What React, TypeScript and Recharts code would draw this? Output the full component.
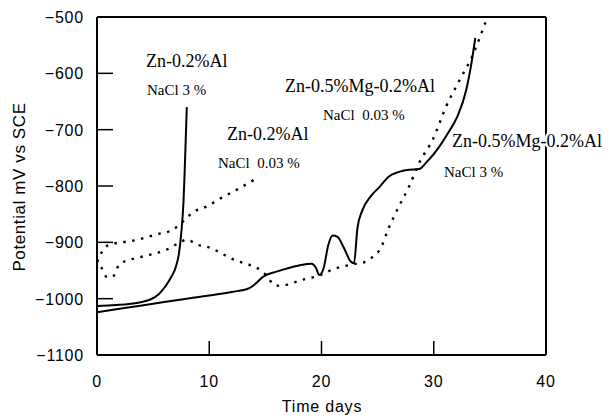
import { LineChart, Line, XAxis, YAxis, ReferenceLine } from 'recharts';

// Time (days) / potential (mV vs SCE)
const znAl3pct: [number, number][] = [
  [0, -1013], [1, -1012], [2, -1011], [3, -1009], [4, -1006], [4.8, -1001],
  [5.5, -992], [6.1, -978], [6.6, -962], [7.0, -945], [7.3, -920], [7.5, -885],
  [7.7, -830], [7.8, -780], [7.9, -720], [8.0, -660],
];

const znMgAl3pct: [number, number][] = [
  [0, -1024], [4, -1012], [8, -1000], [12, -988], [13.5, -982], [14.2, -972],
  [14.8, -961], [16, -952], [18, -941], [19.1, -938], [19.5, -945], [19.8, -958],
  [20.2, -945], [20.6, -905], [21, -888], [21.4, -890], [22, -910], [22.6, -934],
  [22.9, -937], [23.2, -875], [23.6, -845], [24.4, -818], [25.2, -801], [26, -783],
  [26.9, -775], [27.8, -771], [28.7, -770], [29.3, -759], [30.5, -730], [31.3, -705],
  [32.1, -677], [32.9, -629], [33.3, -589], [33.7, -537],
];

const znAl003pct: [number, number][] = [
  [0, -935], [0.5, -915], [1, -905], [2.2, -900], [3.2, -897], [5.3, -886],
  [6.8, -877], [7.5, -866], [8, -856], [8.7, -845], [9.8, -836], [11, -822],
  [12.5, -806], [14, -789],
];

const znMgAl003pct: [number, number][] = [
  [0, -930], [0.4, -945], [0.9, -962], [1.4, -961], [2, -939], [3.1, -930],
  [4.1, -925], [6.2, -913], [7.4, -900], [8, -895], [8.9, -904], [9.8, -908],
  [12.1, -930], [14.8, -953], [16, -977], [17, -975], [18, -968], [19.8, -959],
  [21, -948], [22.8, -939], [24, -934], [24.6, -925], [25.2, -913], [26, -874],
  [26.9, -836], [27.8, -801], [28.7, -759], [29.9, -718], [31.1, -659],
  [32.3, -612], [33.4, -571], [34.7, -505], [34.8, -500],
];

const xTicks = [0, 10, 20, 30, 40];
const yTicks = [-1100, -1000, -900, -800, -700, -600, -500];

const pts = (arr: [number, number][]) => arr.map(([t, v]) => ({ t, v }));

const fmtY = (v: number) => (v < 0 ? '\u2212' + Math.abs(v) : String(v));

const sans = 'Liberation Sans, Arial, sans-serif';
const serif = 'Liberation Serif, Times New Roman, serif';

// ticks point into the plot, like the original figure
function XTick(props: any) {
  const { x, y, payload } = props;
  const inner = payload.value !== 0 && payload.value !== 40;
  return (
    <g>
      {inner && <line x1={x} x2={x} y1={y} y2={y - 14} stroke="#000" strokeWidth={1.5} />}
      <text x={x} y={y + 32} textAnchor="middle" fontFamily={sans} fontSize={16} letterSpacing={0.8} fill="#000">
        {payload.value}
      </text>
    </g>
  );
}

function YTick(props: any) {
  const { x, y, payload } = props;
  const inner = payload.value !== -1100 && payload.value !== -500;
  return (
    <g>
      {inner && <line x1={x} x2={x + 16} y1={y} y2={y} stroke="#000" strokeWidth={1.5} />}
      <text x={x - 13} y={y + 6} textAnchor="end" fontFamily={sans} fontSize={16} letterSpacing={0.8} fill="#000">
        {fmtY(payload.value)}
      </text>
    </g>
  );
}

export default function App() {
  return (
    <div style={{ position: 'absolute', left: 0, top: 0, width: 608, height: 418, background: '#fff' }}>
      <LineChart width={608} height={418} margin={{ top: 17, right: 62, bottom: 0, left: 0 }}>
        <XAxis
          type="number"
          dataKey="t"
          domain={[0, 40]}
          ticks={xTicks}
          height={63}
          tickSize={0}
          tickMargin={0}
          tickLine={false}
          axisLine={{ stroke: '#000', strokeWidth: 2 }}
          tick={XTick}
          allowDataOverflow
        />
        <YAxis
          type="number"
          domain={[-1100, -500]}
          ticks={yTicks}
          width={97}
          tickSize={0}
          tickMargin={0}
          tickLine={false}
          axisLine={{ stroke: '#000', strokeWidth: 2 }}
          tick={YTick}
          allowDataOverflow
        />
        <ReferenceLine y={-500} stroke="#000" strokeWidth={2} />
        <ReferenceLine x={40} stroke="#000" strokeWidth={2} />
        <Line data={pts(znAl3pct)} dataKey="v" type="monotone" stroke="#000" strokeWidth={2} dot={false} isAnimationActive={false} />
        <Line data={pts(znMgAl3pct)} dataKey="v" type="monotone" stroke="#000" strokeWidth={2} dot={false} isAnimationActive={false} />
        <Line data={pts(znAl003pct)} dataKey="v" type="monotone" stroke="#000" strokeWidth={2.4} strokeDasharray="2.5 6.5" dot={false} isAnimationActive={false} />
        <Line data={pts(znMgAl003pct)} dataKey="v" type="monotone" stroke="#000" strokeWidth={2.4} strokeDasharray="2.5 6.5" dot={false} isAnimationActive={false} />
      </LineChart>
      <svg width={608} height={418} style={{ position: 'absolute', left: 0, top: 0, pointerEvents: 'none' }}>
        <g fontFamily={serif} fill="#000">
          <text x={146} y={67} fontSize={18}>Zn-0.2%Al</text>
          <text x={147} y={95} fontSize={15}>NaCl 3 %</text>
          <text x={227} y={140} fontSize={18}>Zn-0.2%Al</text>
          <text x={218} y={168} fontSize={15} style={{ whiteSpace: 'pre' }}>NaCl  0.03 %</text>
          <text x={285} y={92} fontSize={18}>Zn-0.5%Mg-0.2%Al</text>
          <text x={323} y={120} fontSize={15} style={{ whiteSpace: 'pre' }}>NaCl  0.03 %</text>
          <text x={452} y={147} fontSize={18} stroke="#fff" strokeWidth={5} style={{ paintOrder: 'stroke' }}>Zn-0.5%Mg-0.2%Al</text>
          <text x={444} y={177} fontSize={15}>NaCl 3 %</text>
        </g>
        <text
          x={19}
          y={187}
          transform="rotate(-90 19 187)"
          textAnchor="middle"
          dominantBaseline="central"
          fontFamily={sans}
          fontSize={17}
          letterSpacing={0.6}
        >
          Potential mV vs SCE
        </text>
        <text x={322} y={412} textAnchor="middle" fontFamily={sans} fontSize={16} letterSpacing={0.8}>
          Time days
        </text>
      </svg>
    </div>
  );
}
